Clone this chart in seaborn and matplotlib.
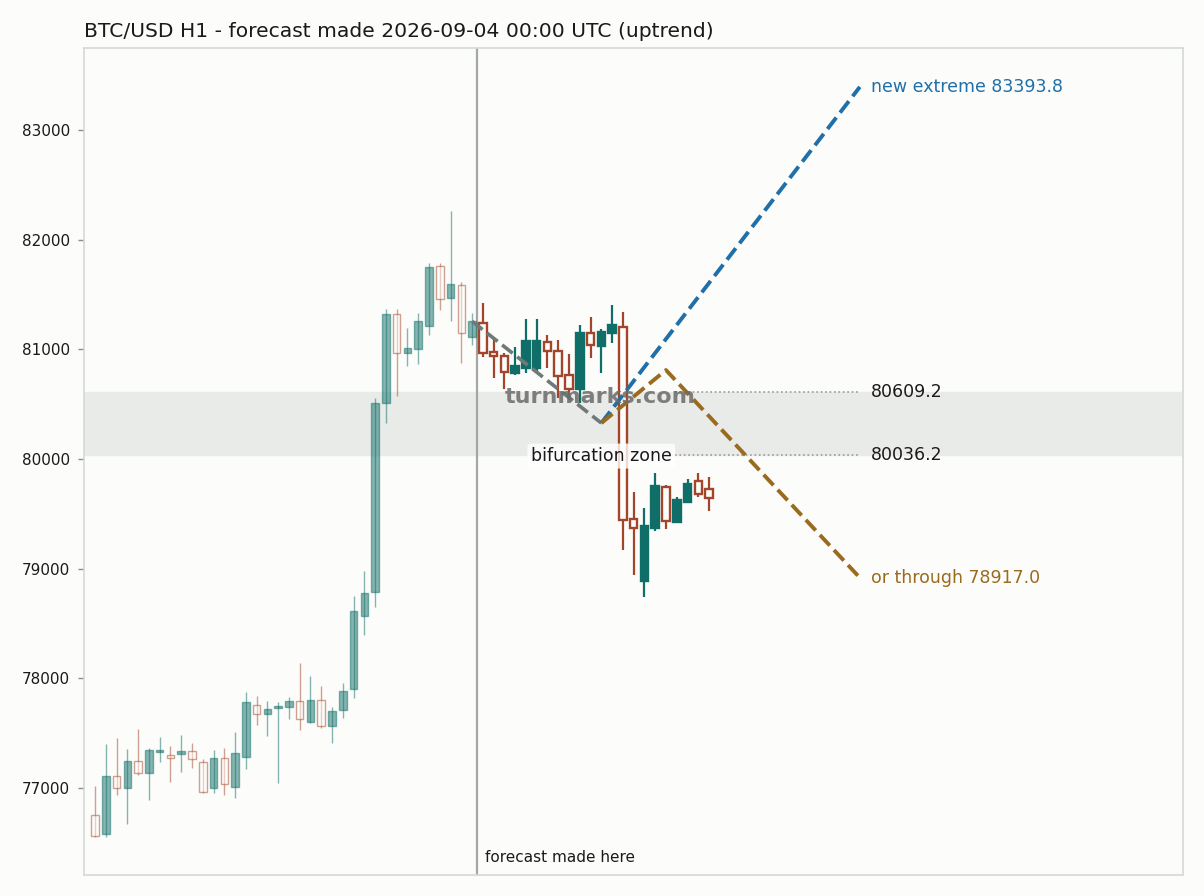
import numpy as np
import pandas as pd
import matplotlib
matplotlib.use("Agg")
import matplotlib.pyplot as plt
import seaborn as sns

# ── Data ──────────────────────────────────────────────────────────────────────

TITLE = "BTC/USD H1 - forecast made 2026-09-04 00:00 UTC (uptrend)"

opens = [76753, 76577, 77109, 76997, 77246, 77139, 77325, 77298, 77307, 77337,
         77237, 76997, 77271, 77006, 77280, 77754, 77672, 77726, 77741, 77790,
         77599, 77799, 77568, 77708, 77900, 78571, 78787, 80508, 81322, 80969,
         81000, 81215, 81757, 81465, 81584, 81115, 81243, 80973, 80942, 80787,
         80832, 80832, 81070, 80987, 80766, 80638, 81146, 81033, 81146, 81206,
         79450, 78890, 79368, 79747, 79428, 79605, 79802, 79723]
highs = [77018, 77398, 77453, 77353, 77535, 77367, 77462, 77385, 77486, 77407,
         77261, 77346, 77362, 77508, 77872, 77841, 77796, 77787, 77827, 78137,
         78024, 77933, 77736, 77960, 78753, 78979, 80556, 81365, 81365, 81192,
         81328, 81784, 81790, 82264, 81611, 81328, 81420, 81091, 80969, 81018,
         81277, 81277, 81131, 81085, 80957, 81222, 81292, 81185, 81404, 81338,
         79696, 79550, 79869, 79760, 79656, 79817, 79869, 79833]
lows = [76553, 76550, 76936, 76671, 77118, 76890, 77234, 77052, 77143, 77179,
        76955, 76951, 76936, 76911, 77173, 77574, 77474, 77043, 77626, 77529,
        77590, 77544, 77407, 77635, 77818, 78395, 78650, 80328, 80574, 80848,
        80863, 81131, 81359, 81261, 80873, 81039, 80933, 80741, 80641, 80766,
        80781, 80787, 80827, 80553, 80574, 80508, 80924, 80787, 81055, 79170,
        78942, 78744, 79346, 79359, 79420, 79595, 79651, 79528]
closes = [76565, 77109, 76997, 77246, 77134, 77346, 77346, 77271, 77334, 77261,
          76961, 77271, 77033, 77316, 77781, 77672, 77717, 77747, 77790, 77626,
          77799, 77568, 77699, 77882, 78611, 78775, 80508, 81322, 80964, 81009,
          81258, 81748, 81456, 81593, 81146, 81256, 80964, 80939, 80793, 80845,
          81076, 81076, 80985, 80757, 80638, 81146, 81039, 81155, 81222, 79444,
          79368, 79389, 79754, 79437, 79626, 79772, 79681, 79642]

FORECAST_BAR = 35          # last bar known when the forecast was made
FORECAST_LINE_X = 35.45

# forecast paths (bar index, price)
lead_x, lead_y = [35, 47], [81256, 80328]
up_x, up_y = [47, 71], [80328, 83393.8]
down_x, down_y = [47, 53, 71], [80328, 80811, 78917.0]

ZONE_HI, ZONE_LO = 80609.2, 80036.2
Y_TICKS = [77000, 78000, 79000, 80000, 81000, 82000, 83000]

# ── Style ─────────────────────────────────────────────────────────────────────

BG = "#fcfcfa"
TEAL = "#0f6e68"
RED = "#a3452a"
BLUE = "#1f6fa8"
BROWN = "#9a6a1e"

sns.set_theme(style="white")
plt.rcParams["font.family"] = ["DejaVu Sans"]

fig = plt.figure(figsize=(12.04, 8.96), dpi=100, facecolor=BG)
ax = fig.add_axes([0.0698, 0.0234, 0.9128, 0.923])
ax.set_facecolor(BG)

# ── Candles ───────────────────────────────────────────────────────────────────

df = pd.DataFrame({"open": opens, "high": highs, "low": lows, "close": closes})
df["x"] = np.arange(len(df))
df["up"] = df["close"] >= df["open"]
df["hist"] = df["x"] <= FORECAST_BAR

for hist, sub in df.groupby("hist"):
    alpha = 0.5 if hist else 1.0
    lw_w = 1.0 if hist else 1.6
    lw_b = 1.0 if hist else 1.7
    for up, grp in sub.groupby("up"):
        col = TEAL if up else RED
        ax.vlines(grp["x"], grp["low"], grp["high"], color=col,
                  linewidth=lw_w, alpha=alpha, zorder=2)
        bottom = np.minimum(grp["open"], grp["close"])
        height = np.maximum((grp["close"] - grp["open"]).abs(), 20)
        ax.bar(grp["x"], height, bottom=bottom, width=0.7,
               facecolor=col if up else BG, edgecolor=col,
               linewidth=lw_b, alpha=alpha, zorder=3)

# ── Zone, forecast marker, paths ─────────────────────────────────────────────

ax.axhspan(ZONE_LO, ZONE_HI, color="#e8ebe8", zorder=0)
ax.axvline(FORECAST_LINE_X, color="#a3a7a5", linewidth=1.6, zorder=1)

sns.lineplot(x=lead_x, y=lead_y, ax=ax, color="#6f7977", linewidth=2.6,
             linestyle="--", zorder=4)
sns.lineplot(x=up_x, y=up_y, ax=ax, color=BLUE, linewidth=2.8,
             linestyle="--", zorder=4)
sns.lineplot(x=down_x, y=down_y, ax=ax, color=BROWN, linewidth=2.8,
             linestyle="--", sort=False, zorder=4)

for lvl in (ZONE_HI, ZONE_LO):
    ax.plot([53.85, 71], [lvl, lvl], color="#9a9a9a", linewidth=1.2,
            linestyle=":", zorder=1)
    ax.text(72.05, lvl, f"{lvl:.1f}", fontsize=12.5, color="#1a1a1a",
            va="center", ha="left")

ax.text(72.05, up_y[-1], f"new extreme {up_y[-1]:.1f}", fontsize=12.5,
        color=BLUE, va="center", ha="left")
ax.text(72.05, down_y[-1], f"or through {down_y[-1]:.1f}", fontsize=12.5,
        color=BROWN, va="center", ha="left")

ax.text(47, 80027, "bifurcation zone", fontsize=12.5, color="#1a1a1a",
        ha="center", va="center", zorder=5,
        bbox=dict(boxstyle="round,pad=0.2", facecolor="white",
                  edgecolor="none", alpha=0.8))

ax.text(FORECAST_LINE_X + 0.75, 0.012, "forecast made here", fontsize=11,
        color="#1a1a1a", ha="left", va="bottom",
        transform=ax.get_xaxis_transform())

ax.text(46.9, 80565, "turnmarks.com", fontsize=16, fontweight="bold",
        color="#6a6a6a", alpha=0.85, ha="center", va="center", zorder=6)

# ── Axes ──────────────────────────────────────────────────────────────────────

ax.set_xlim(-1.02, 101)
ax.set_ylim(76206, 83748)
ax.set_xticks([])
ax.set_yticks(Y_TICKS)
ax.set_yticklabels([str(t) for t in Y_TICKS])
ax.tick_params(axis="y", left=True, length=4, width=1, color="#8a8f8d",
               labelsize=11, labelcolor="#1a1a1a", pad=6)
for spine in ax.spines.values():
    spine.set_edgecolor("#d5dad7")
    spine.set_linewidth(1.2)
    spine.set_visible(True)

ax.set_title(TITLE, loc="left", fontsize=14.6, color="#1a1a1a", pad=8)

fig.savefig("out.png", dpi=100, facecolor=BG)
